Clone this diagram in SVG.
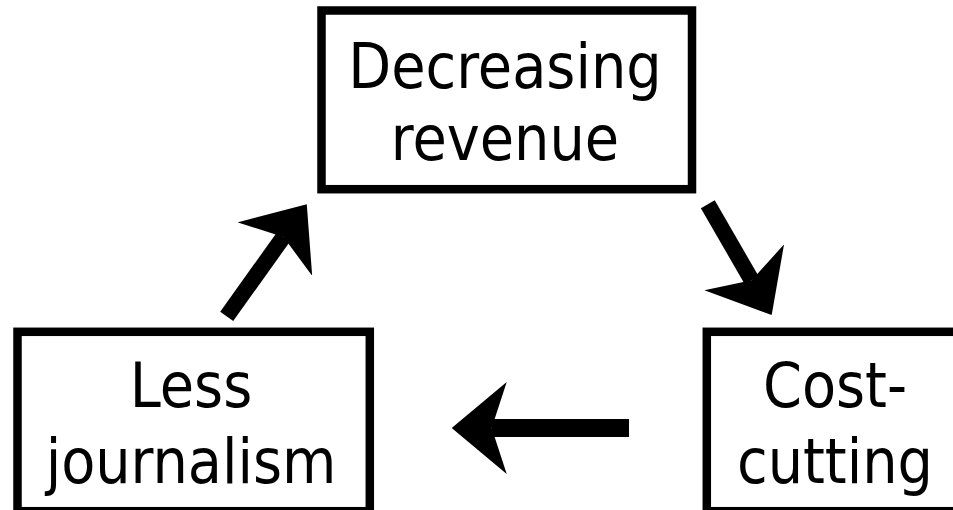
<svg xmlns="http://www.w3.org/2000/svg" width="953" height="510" viewBox="0 0 953 510">
  <defs>
    <style>
      .box { fill: #ffffff; stroke: #000000; stroke-width: 8.5; }
      .label { font-family: "DejaVu Sans Condensed", "DejaVu Sans", sans-serif; font-stretch: condensed; font-size: 62px; fill: #000000; text-anchor: middle; }
      .flow { fill: none; stroke: #000000; stroke-linecap: butt; marker-end: url(#head); }
    </style>
    <!-- notched arrowhead; tip sits 40 units past the end of the shaft -->
    <marker id="head" markerUnits="userSpaceOnUse" viewBox="0 0 55 92" markerWidth="55" markerHeight="92" refX="15" refY="46" orient="auto">
      <path d="M55 46 L0 0 L15 46 L0 92 Z" fill="#000000"/>
    </marker>
  </defs>
  <rect width="953" height="510" fill="#ffffff"/>

  <g id="decreasing-revenue">
    <rect class="box" x="321.5" y="10.5" width="370.5" height="178.7"/>
    <text class="label" x="505" y="88">Decreasing</text>
    <text class="label" x="505" y="160">revenue</text>
  </g>

  <g id="less-journalism">
    <rect class="box" x="17.5" y="331.8" width="352.3" height="179.4"/>
    <text class="label" x="191" y="407">Less</text>
    <text class="label" x="191" y="483">journalism</text>
  </g>

  <g id="cost-cutting">
    <rect class="box" x="706.8" y="331.8" width="263" height="179.4"/>
    <text class="label" x="835" y="407">Cost-</text>
    <text class="label" x="835" y="483">cutting</text>
  </g>

  <g id="connectors">
    <path class="flow" stroke-width="16" d="M707.8 204.2 L751.7 280.3"/>
    <path class="flow" stroke-width="18" d="M629 428 L491.7 428"/>
    <path class="flow" stroke-width="16" d="M226.7 316.3 L283.5 236.9"/>
  </g>
</svg>
